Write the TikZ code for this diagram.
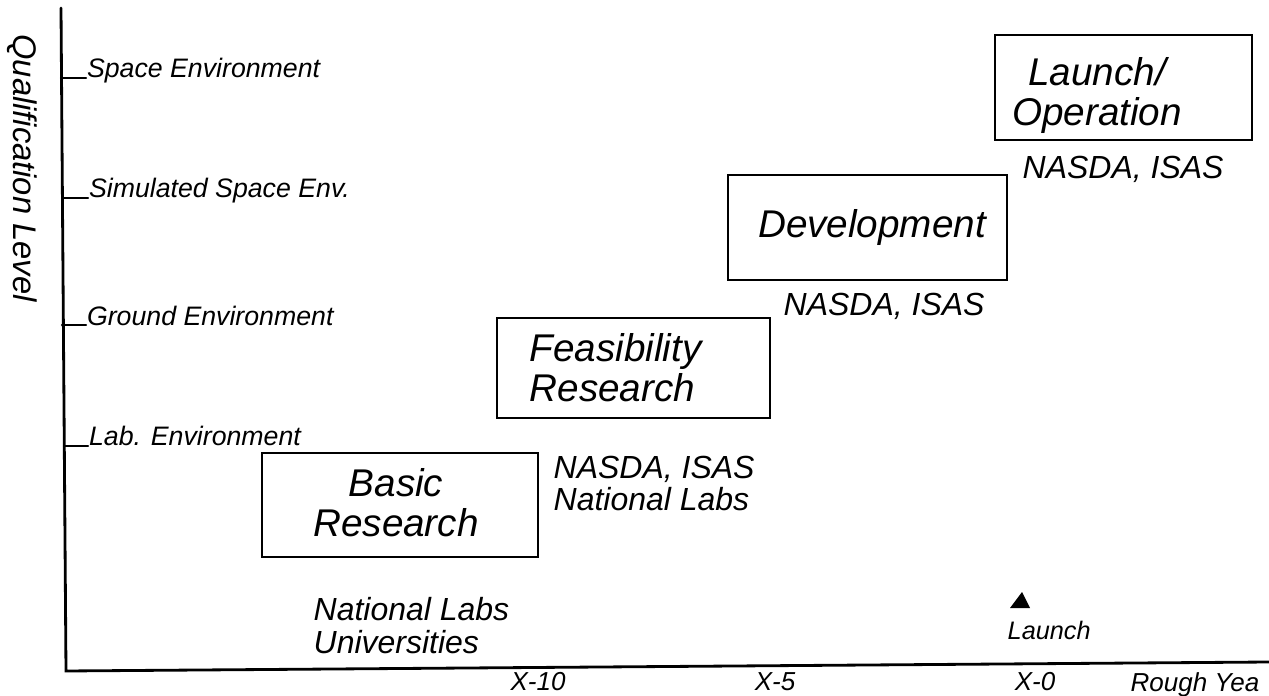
\documentclass[tikz,border=0pt]{standalone}
\usepackage{fontspec}
\setmainfont{Liberation Sans}
\usepackage{tikz}
\usetikzlibrary{positioning,calc}

\begin{document}
\begin{tikzpicture}[
    axis/.style={black, line width=0.8pt, line cap=round},
    stage/.style={draw, line width=0.6pt, inner sep=0pt},
    stagetxt/.style={inner sep=0pt, font=\fontsize{11}{11.2}\selectfont\itshape},
    org/.style={anchor=north west, inner sep=0pt, align=left,
      font=\fontsize{9.1}{9.2}\selectfont\itshape},
    lvl/.style={anchor=base west, inner sep=0pt, font=\fontsize{7.6}{9}\selectfont\itshape},
    yr/.style={anchor=base, inner sep=0pt, font=\fontsize{7.4}{9}\selectfont\itshape}]
    \useasboundingbox (0,0) rectangle (12.69,6.95);
    % --- Axes ---
    \coordinate (orig) at (0.66,0.24);
    \draw[axis] (0.61,6.87) -- (orig) -- (12.69,0.33);
    \node[rotate=-90, font=\fontsize{9.3}{11}\selectfont\itshape] (ylab) at (0.22,5.27) {Qualification Level};
    % --- Qualification levels (tick + label) ---
    \draw[axis, line width=0.6pt] (0.61,6.17) -- (0.86,6.17) node[lvl] (space) {Space Environment};
    \draw[axis, line width=0.6pt] (0.63,4.97) -- (0.88,4.97) node[lvl] (sim) {Simulated Space Env.};
    \draw[axis, line width=0.6pt] (0.62,3.70) -- (0.86,3.70) node[lvl] (ground) {Ground Environment};
    \draw[axis, line width=0.6pt] (0.64,2.49) -- (0.88,2.49) node[lvl] (lab) {Lab. Environment};
    % --- Stages (box, then its text a little off centre as in the chart) ---
    \node[stage, minimum width=2.76cm, minimum height=1.04cm] (basic) at (4.00,1.90) {};
    \node[stagetxt, anchor=north, align=center] (basictxt) at (3.96,2.27) {Basic\\Research};
    \node[stage, minimum width=2.73cm, minimum height=1.00cm] (feas) at (6.335,3.27) {};
    \node[stagetxt, anchor=north west, align=left] (feastxt) at (5.29,3.62) {Feasibility\\Research};
    \node[stage, minimum width=2.79cm, minimum height=1.05cm] (dev) at (8.675,4.675) {};
    \node[stagetxt, anchor=base] (devtxt) at (8.72,4.58) {Development};
    \node[stage, minimum width=2.57cm, minimum height=1.05cm] (launch) at (11.235,6.075) {};
    \node[stagetxt, anchor=north, align=center] (launchtxt) at (10.97,6.38) {Launch/\\Operation};
    % --- Organisations ---
    \node[org] (basicorg) at (3.13,0.98) {National Labs\\Universities};
    \node[org] (feasorg) at (5.53,2.40) {NASDA, ISAS\\National Labs};
    \node[org] (devorg) at (7.83,4.03) {NASDA, ISAS};
    \node[org] (launchorg) at (10.22,5.40) {NASDA, ISAS};
    % --- Launch marker ---
    \fill (10.10,0.87) -- (10.30,0.87) -- (10.22,1.03) -- cycle;
    \node[lvl, font=\fontsize{7.2}{9}\selectfont\itshape] (launchmark) at (10.07,0.55) {Launch};
    % --- Rough years ---
    \node[yr] (x10) at (5.38,0.05) {X-10};
    \node[yr] (x5) at (7.75,0.05) {X-5};
    \node[yr] (x0) at (10.35,0.05) {X-0};
    \node[lvl, font=\fontsize{7.4}{9}\selectfont\itshape] (years) at (11.30,0.04) {Rough Yea};
  \end{tikzpicture}
\end{document}
